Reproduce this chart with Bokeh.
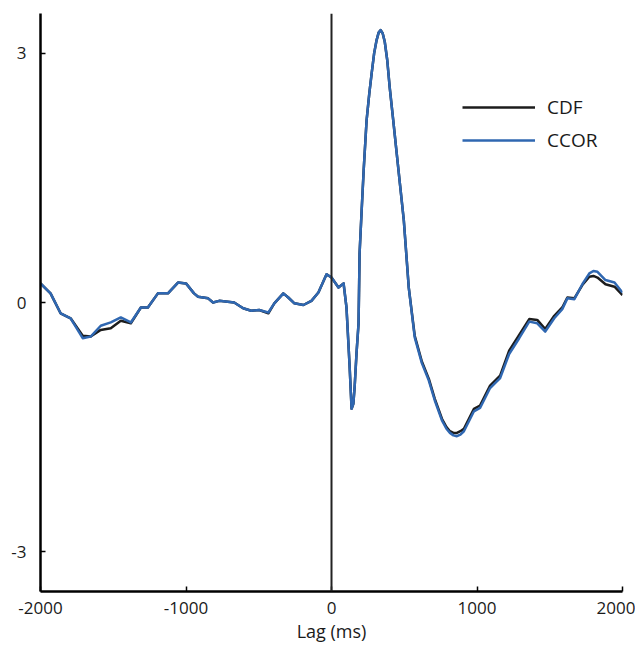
from bokeh.plotting import figure
from bokeh.models import Span, Legend, LegendItem, FixedTicker, Range1d
from bokeh.embed import file_html
from bokeh.resources import INLINE

# ---- data ----
lag_ms = [-2000, -1931, -1862, -1793, -1710, -1655, -1586, -1517, -1448, -1379,
          -1310, -1262, -1193, -1124, -1055, -1000, -945, -917, -848, -814,
          -772, -669, -607, -552, -497, -434, -393, -331, -297, -255,
          -193, -138, -90, -34, 0, 48, 83, 103, 124, 138, 150, 159,
          172, 186, 193, 207, 221, 241, 260, 276, 293, 310, 324, 338, 352, 366, 383, 400,
          424, 448, 472, 497, 531, 572, 621, 669, 710, 759, 790, 814, 838, 862,
          886, 910, 979, 1021, 1090, 1159, 1221, 1290, 1359, 1414, 1469,
          1531, 1586, 1621, 1669, 1724, 1772, 1800, 1828, 1883, 1945, 2000]

ccor = [0.23, 0.11, -0.13, -0.19, -0.43, -0.41, -0.28, -0.24, -0.18, -0.24,
        -0.06, -0.06, 0.11, 0.11, 0.24, 0.23, 0.11, 0.07, 0.05, 0.00,
        0.02, 0.00, -0.07, -0.10, -0.09, -0.12, -0.01, 0.11, 0.06, -0.01,
        -0.03, 0.02, 0.12, 0.34, 0.30, 0.18, 0.23, -0.06, -0.75, -1.28, -1.22, -1.02,
        -0.61, -0.25, 0.59, 1.10, 1.59, 2.19, 2.52, 2.76, 3.00, 3.16, 3.25, 3.28, 3.24, 3.14, 2.92, 2.59,
        2.20, 1.80, 1.40, 0.99, 0.18, -0.42, -0.73, -0.94, -1.18, -1.42, -1.52, -1.57, -1.60, -1.61,
        -1.59, -1.55, -1.31, -1.27, -1.03, -0.91, -0.62, -0.43, -0.23, -0.25, -0.35,
        -0.19, -0.08, 0.05, 0.04, 0.22, 0.35, 0.38, 0.37, 0.27, 0.24, 0.12]

cdf = [0.23, 0.11, -0.13, -0.19, -0.40, -0.41, -0.33, -0.31, -0.22, -0.25,
       -0.06, -0.06, 0.11, 0.11, 0.24, 0.23, 0.11, 0.07, 0.05, 0.00,
       0.02, 0.00, -0.07, -0.10, -0.09, -0.13, -0.01, 0.11, 0.06, -0.01,
       -0.03, 0.02, 0.12, 0.34, 0.30, 0.18, 0.23, -0.06, -0.75, -1.28, -1.22, -1.02,
       -0.61, -0.25, 0.59, 1.10, 1.59, 2.19, 2.52, 2.76, 3.00, 3.16, 3.25, 3.28, 3.24, 3.14, 2.92, 2.59,
       2.20, 1.80, 1.40, 0.99, 0.18, -0.40, -0.71, -0.92, -1.16, -1.40, -1.50, -1.55, -1.57, -1.57,
       -1.55, -1.52, -1.28, -1.24, -1.00, -0.88, -0.58, -0.39, -0.20, -0.21, -0.32,
       -0.16, -0.06, 0.06, 0.05, 0.21, 0.31, 0.32, 0.30, 0.22, 0.19, 0.09]

x_ticks = [-2000, -1000, 0, 1000, 2000]
x_tick_labels = ["-2000", "-1000", "0", "1000", "2000"]
y_ticks = [-3, 0, 3]
y_tick_labels = ["-3", "0", "3"]
series_names = ["CDF", "CCOR"]

FONT = "Open Sans"
TXT = "#1a1a1a"
BLUE = "#2f67b1"

p = figure(width=635, height=645, output_backend="svg", toolbar_location=None,
           x_range=Range1d(-2000, 2000), y_range=Range1d(-3.48, 3.48))
p.min_border_left = 40
p.min_border_right = 13
p.min_border_top = 13
p.min_border_bottom = 54
p.outline_line_color = None
p.xgrid.visible = False
p.ygrid.visible = False
p.background_fill_color = "white"

p.add_layout(Span(location=0, dimension="height", line_color="#222222", line_width=2))

r_cdf = p.line(lag_ms, cdf, line_color="#1c1c1c", line_width=2.5, line_join="round")
r_ccor = p.line(lag_ms, ccor, line_color=BLUE, line_width=2.5, line_join="round")

for ax in (p.xaxis[0], p.yaxis[0]):
    ax.axis_line_width = 2.5
    ax.axis_line_color = "black"
    ax.major_tick_in = 5
    ax.major_tick_out = 0
    ax.major_tick_line_width = 1.5
    ax.minor_tick_line_color = None
    ax.major_label_text_font = FONT
    ax.major_label_text_font_size = "17px"
    ax.major_label_text_color = TXT

p.xaxis.ticker = FixedTicker(ticks=x_ticks)
p.xaxis.major_label_overrides = dict(zip(x_ticks, x_tick_labels))
p.yaxis.ticker = FixedTicker(ticks=y_ticks)
p.yaxis.major_label_overrides = dict(zip(y_ticks, y_tick_labels))
p.xaxis.major_label_standoff = 10
p.yaxis.major_label_standoff = 14
p.xaxis.axis_label = "Lag (ms)"
p.xaxis.axis_label_text_font = FONT
p.xaxis.axis_label_text_font_size = "18px"
p.xaxis.axis_label_text_font_style = "normal"
p.xaxis.axis_label_text_color = TXT
p.xaxis.axis_label_standoff = 2

legend = Legend(items=[LegendItem(label=series_names[0], renderers=[r_cdf]),
                       LegendItem(label=series_names[1], renderers=[r_ccor])],
                location=(422, 438))
legend.border_line_color = None
legend.background_fill_alpha = 0
legend.padding = 0
legend.margin = 0
legend.spacing = 7
legend.glyph_width = 73
legend.glyph_height = 22
legend.label_height = 22
legend.label_standoff = 12
legend.label_text_font = FONT
legend.label_text_font_size = "19px"
legend.label_text_color = TXT
p.add_layout(legend)

open("out.html", "w").write(file_html(p, INLINE))
